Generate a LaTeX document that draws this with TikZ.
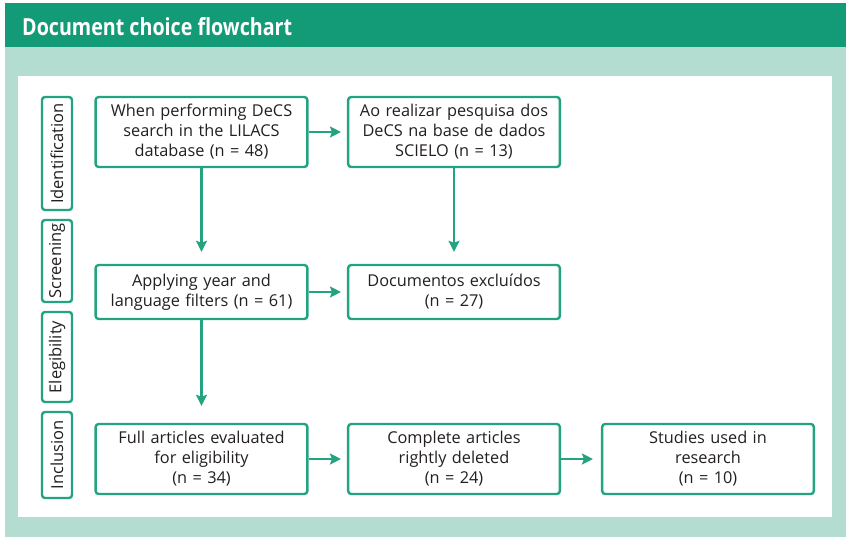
\documentclass[tikz,border=0pt]{standalone}
\usepackage{fontspec}
\setmainfont{Open Sans}
\usetikzlibrary{positioning, arrows.meta}

\definecolor{bardark}{RGB}{19,154,119}
\definecolor{barlight}{RGB}{178,221,208}
\definecolor{linegreen}{RGB}{36,163,129}
\definecolor{inktext}{RGB}{35,31,32}

\begin{document}
\begin{tikzpicture}[
    x=1pt, y=-1pt,
    % Styles
    stepbox/.style={draw=linegreen, line width=2.4pt, rounded corners=3pt, fill=white, text=inktext,
        minimum width=211pt, text width=205pt, align=center, font=\fontsize{16.3}{20}\selectfont},
    stage/.style={draw=linegreen, line width=2.4pt, rounded corners=3pt, rotate=90, text=inktext,
        minimum height=30pt, inner sep=0pt, font=\fontsize{16.5}{18}\selectfont},
    arrow/.style={-{Stealth[length=11pt, width=11pt, inset=2pt]}, line width=2.4pt, linegreen},
]

% Frame and title bar
\useasboundingbox (0,0) rectangle (849,539);
\fill[barlight] (5,3) rectangle (846,537);
\fill[bardark] (5,3) rectangle (846,47);
\fill[white] (18,76) rectangle (832,517);
\node[anchor=base west, inner sep=0pt, text=white] (title) at (22,35)
    {\resizebox{270pt}{18pt}{\bfseries Document choice flowchart}};

% Stage labels
\node[stage, minimum width=113pt] (ident) at (57,153.5) {Identification};
\node[stage, minimum width=82pt] (screen) at (57,261) {Screening};
\node[stage, minimum width=90pt] (elig) at (57,357) {Elegibility};
\node[stage, minimum width=86pt] (incl) at (57,455) {Inclusion};

% Identification
\node[stepbox, minimum height=70pt] (lilacs) at (201.5,132) {When performing DeCS\\search in the LILACS\\database (n = 48)};
\node[stepbox, minimum height=70pt] (scielo) at (454,132) {Ao realizar pesquisa dos\\DeCS na base de dados\\SCIELO (n = 13)};

% Screening
\node[stepbox, minimum height=54pt] (filters) at (201.5,292) {Applying year and\\language filters (n = 61)};
\node[stepbox, minimum height=54pt] (excluded) at (454,292) {Documentos excluídos\\(n = 27)};

% Inclusion
\node[stepbox, minimum height=70pt] (full) at (201.5,459) {Full articles evaluated\\for eligibility\\(n = 34)};
\node[stepbox, minimum height=70pt] (deleted) at (454,459) {Complete articles\\rightly deleted\\(n = 24)};
\node[stepbox, minimum height=70pt] (used) at (708,459) {Studies used in\\research\\(n = 10)};

% Arrows
\draw[arrow, shorten >=6pt] (lilacs) -- (scielo);
\draw[arrow, shorten >=12pt] (lilacs) -- (filters);
\draw[arrow, shorten >=12pt] (scielo) -- (excluded);
\draw[arrow, shorten >=6pt] (filters) -- (excluded);
\draw[arrow, shorten >=17pt] (filters) -- (full);
\draw[arrow, shorten >=6pt] (full) -- (deleted);
\draw[arrow, shorten >=8pt] (deleted) -- (used);

\end{tikzpicture}
\end{document}
